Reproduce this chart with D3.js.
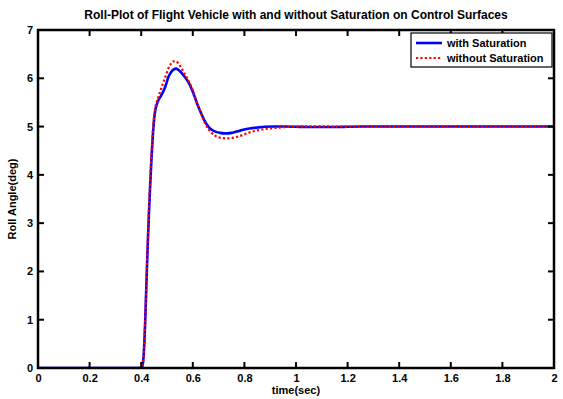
<!DOCTYPE html>
<html>
<head>
<meta charset="utf-8">
<script src="https://cdn.jsdelivr.net/npm/d3@7"></script>
<style>
  html, body { margin: 0; padding: 0; background: #fff; }
  svg { display: block; font-family: "Liberation Sans", Arial, Helvetica, sans-serif; font-weight: bold; }
</style>
</head>
<body>
<svg id="chart" width="563" height="399"></svg>
<script>
// Roll response samples (time in seconds, roll angle in degrees)
const time = [0, 0.40, 0.405, 0.41, 0.415, 0.42, 0.425, 0.43, 0.435, 0.44, 0.445, 0.45, 0.455, 0.46, 0.467,
  0.475, 0.485, 0.495, 0.505, 0.515, 0.525, 0.535, 0.545, 0.555, 0.57, 0.585, 0.6, 0.615, 0.63, 0.645, 0.66,
  0.675, 0.69, 0.705, 0.72, 0.735, 0.75, 0.765, 0.78, 0.8, 0.82, 0.85, 0.88, 0.92, 0.96, 1.0, 1.05, 1.1, 1.15,
  1.2, 1.25, 1.3, 1.4, 1.5, 1.6, 1.8, 2.0];

const withSaturation = [0, 0, 0.05, 0.3, 0.9, 1.7, 2.5, 3.2, 3.8, 4.35, 4.8, 5.15, 5.35, 5.45, 5.55,
  5.62, 5.72, 5.85, 6.02, 6.12, 6.18, 6.2, 6.17, 6.12, 6.02, 5.9, 5.72, 5.5, 5.3, 5.13, 5.0,
  4.93, 4.89, 4.87, 4.86, 4.86, 4.87, 4.89, 4.91, 4.94, 4.96, 4.98, 4.995, 5.0, 5.0, 4.995, 4.99, 4.99, 4.99,
  4.995, 5.0, 5.0, 5.0, 5.0, 5.0, 5.0, 5.0];

const withoutSaturation = [0, 0, 0.05, 0.3, 0.9, 1.75, 2.6, 3.3, 3.9, 4.45, 4.9, 5.2, 5.4, 5.5, 5.62,
  5.75, 5.9, 6.05, 6.2, 6.3, 6.35, 6.35, 6.3, 6.22, 6.08, 5.93, 5.75, 5.52, 5.3, 5.1, 4.95,
  4.86, 4.8, 4.77, 4.76, 4.755, 4.76, 4.78, 4.8, 4.84, 4.88, 4.92, 4.95, 4.97, 4.99, 5.0, 5.005, 5.005, 5.0,
  5.0, 5.0, 5.0, 5.0, 5.0, 5.0, 5.0, 5.0];

const xTicks = [0, 0.2, 0.4, 0.6, 0.8, 1, 1.2, 1.4, 1.6, 1.8, 2];
const yTicks = [0, 1, 2, 3, 4, 5, 6, 7];
const seriesNames = ["with Saturation", "without Saturation"];

const titleText = "Roll-Plot of Flight Vehicle with and without Saturation on Control Surfaces";
const xLabel = "time(sec)";
const yLabel = "Roll Angle(deg)";

const svg = d3.select("#chart");
const m = { left: 38, right: 554, top: 30, bottom: 368 };

const x = d3.scaleLinear().domain([0, 2]).range([m.left, m.right]);
const y = d3.scaleLinear().domain([0, 7]).range([m.bottom, m.top]);

const fmt = d => (d === 0 || d === 1 || d === 2) ? String(d) : d3.format(".1f")(d);

// Data lines, clipped to the plot box
const clipId = "plotClip";
svg.append("clipPath").attr("id", clipId).append("rect")
  .attr("x", m.left).attr("y", m.top - 4).attr("width", m.right - m.left).attr("height", m.bottom - m.top + 4);

const line = (vals) => d3.line()
  .x((d, i) => x(time[i]))
  .y(d => y(d))
  .curve(d3.curveMonotoneX)(vals);

const plot = svg.append("g").attr("clip-path", `url(#${clipId})`);
plot.append("path").attr("d", line(withSaturation))
  .attr("fill", "none").attr("stroke", "#0000ff").attr("stroke-width", 2.6);
plot.append("path").attr("d", line(withoutSaturation))
  .attr("fill", "none").attr("stroke", "#ff0000").attr("stroke-width", 2.2)
  .attr("stroke-dasharray", "2.2,2.2");

// Axes: labels from d3 axes, inward tick marks on all four sides
const tickLen = 6;
const bottomAxis = d3.axisBottom(x).tickValues(xTicks).tickSize(0).tickPadding(6).tickFormat(fmt);
const leftAxis = d3.axisLeft(y).tickValues(yTicks).tickSize(0).tickPadding(5).tickFormat(d3.format("d"));

function styleAxis(g) {
  g.select(".domain").remove();
  g.selectAll(".tick line").remove();
  g.selectAll(".tick text").attr("fill", "#000").style("font-size", "11px").style("font-weight", "bold")
    .style("font-family", "'Liberation Sans', Arial, sans-serif");
}
svg.append("g").attr("transform", `translate(0,${m.bottom})`).call(bottomAxis).call(styleAxis);
svg.append("g").attr("transform", `translate(${m.left},0)`).call(leftAxis).call(styleAxis);

const ticks = svg.append("g").attr("stroke", "#000").attr("stroke-width", 2);
xTicks.forEach(t => {
  ticks.append("line").attr("x1", x(t)).attr("x2", x(t)).attr("y1", m.bottom).attr("y2", m.bottom - tickLen);
  ticks.append("line").attr("x1", x(t)).attr("x2", x(t)).attr("y1", m.top).attr("y2", m.top + tickLen);
});
yTicks.forEach(v => {
  ticks.append("line").attr("x1", m.left).attr("x2", m.left + tickLen).attr("y1", y(v)).attr("y2", y(v));
  ticks.append("line").attr("x1", m.right).attr("x2", m.right - tickLen).attr("y1", y(v)).attr("y2", y(v));
});

// Plot frame
svg.append("rect")
  .attr("x", m.left).attr("y", m.top)
  .attr("width", m.right - m.left).attr("height", m.bottom - m.top)
  .attr("fill", "none").attr("stroke", "#000").attr("stroke-width", 2.5);

// Title and axis labels
svg.append("text").attr("x", (m.left + m.right) / 2).attr("y", 19)
  .attr("text-anchor", "middle").style("font-size", "12px").text(titleText);
svg.append("text").attr("x", (m.left + m.right) / 2).attr("y", 394)
  .attr("text-anchor", "middle").style("font-size", "11px").text(xLabel);
svg.append("text")
  .attr("transform", `translate(16,${(m.top + m.bottom) / 2}) rotate(-90)`)
  .attr("text-anchor", "middle").style("font-size", "11px").text(yLabel);

// Legend
const lg = svg.append("g");
lg.append("rect").attr("x", 411).attr("y", 33).attr("width", 141).attr("height", 34)
  .attr("fill", "#fff").attr("stroke", "#000").attr("stroke-width", 1.2);
const legendStyles = [
  { color: "#0000ff", width: 2.6, dash: null },
  { color: "#ff0000", width: 2.2, dash: "2.2,2.2" }
];
seriesNames.forEach((name, i) => {
  const cy = 43 + i * 15;
  lg.append("line").attr("x1", 416).attr("x2", 442).attr("y1", cy).attr("y2", cy)
    .attr("stroke", legendStyles[i].color).attr("stroke-width", legendStyles[i].width)
    .attr("stroke-dasharray", legendStyles[i].dash);
  lg.append("text").attr("x", 447).attr("y", cy + 4).style("font-size", "11px").text(name);
});
</script>
</body>
</html>
